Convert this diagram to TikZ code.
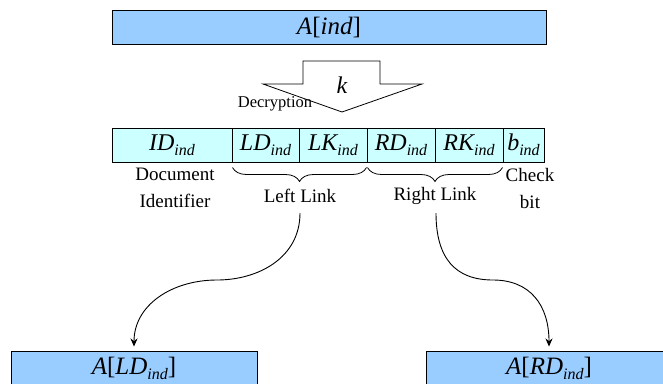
\documentclass[tikz,border=0pt]{standalone}
\usepackage{fontspec}
\setmainfont{Liberation Serif}
\usetikzlibrary{decorations.pathreplacing,arrows.meta}
\definecolor{boxblue}{HTML}{99CCFF}
\definecolor{cellcyan}{HTML}{CCFFFF}
\newcommand{\subi}[1]{\raisebox{-5pt}{\fontsize{16}{16}\selectfont\itshape #1}}
\begin{document}
\begin{tikzpicture}[x=1pt,y=-1pt,
  bluebox/.style={draw=black, line width=1pt, fill=boxblue, minimum width=246pt, minimum height=34pt, inner sep=0pt, font=\fontsize{25}{25}\selectfont\itshape},
  cell/.style={draw=black, line width=1pt, fill=cellcyan, minimum height=34pt, inner sep=0pt, font=\fontsize{24}{24}\selectfont\itshape},
  lbl/.style={align=center, inner sep=0pt, font=\fontsize{19}{27}\selectfont},
  conn/.style={line width=0.9pt, -{Stealth[length=8pt,width=7pt]}, shorten >=4pt},
  bracestyle/.style={line width=0.8pt, decorate, decoration={brace, mirror, amplitude=14pt}}]
\useasboundingbox (0,0) rectangle (663,383);
% top box
\node[bluebox, minimum width=434pt] (top) at (329,27) {A\textup{[}ind\textup{]}};
% decryption arrow
\draw[fill=white, line width=0.8pt] (303,61) -- (380,61) -- (380,84) -- (422,84) -- (342,112) -- (263,84) -- (303,84) -- cycle;
\node[font=\fontsize{24}{24}\selectfont\itshape] (k) at (342,85) {k};
\node[font=\fontsize{16.5}{16.5}\selectfont] (dec) at (275,104) {Decryption};
% record cells
\node[cell, minimum width=120pt] (id) at (172,145) {ID\subi{ind}};
\node[cell, minimum width=67pt] (ld) at (265.5,145) {LD\subi{ind}};
\node[cell, minimum width=68pt] (lk) at (333,145) {LK\subi{ind}};
\node[cell, minimum width=68pt] (rd) at (401,145) {RD\subi{ind}};
\node[cell, minimum width=68pt] (rk) at (469,145) {RK\subi{ind}};
\node[cell, minimum width=41pt] (b) at (523.5,145) {b\subi{ind}};
% braces
\draw[bracestyle] ([xshift=1pt,yshift=-5pt]ld.south west) -- ([xshift=-1pt,yshift=-5pt]lk.south east);
\draw[bracestyle] ([xshift=1pt,yshift=-5pt]rd.south west) -- ([xshift=-1pt,yshift=-5pt]rk.south east);
% labels
\node[lbl] (docid) at (175,188) {Document\\Identifier};
\node[lbl] (check) at (530,188) {Check\\bit};
\node[lbl] (leftlink) at (300,196) {Left Link};
\node[lbl] (rightlink) at (435,196) {Right Link};
% bottom boxes
\node[bluebox] (lbox) at (134,368) {A\textup{[}LD\subi{ind}\textup{]}};
\node[bluebox] (rbox) at (549,368) {A\textup{[}RD\subi{ind}\textup{]}};
% connectors
\coordinate (ls) at (300,213);
\coordinate (rs) at (436,213);
\draw[conn] (ls) .. controls (300,258) and (258,280) .. (217,280) .. controls (172,280) and (134,305) .. (lbox.north);
\draw[conn] (rs) .. controls (436,258) and (455,280) .. (493,280) .. controls (530,280) and (549,305) .. (rbox.north);
\end{tikzpicture}
\end{document}
